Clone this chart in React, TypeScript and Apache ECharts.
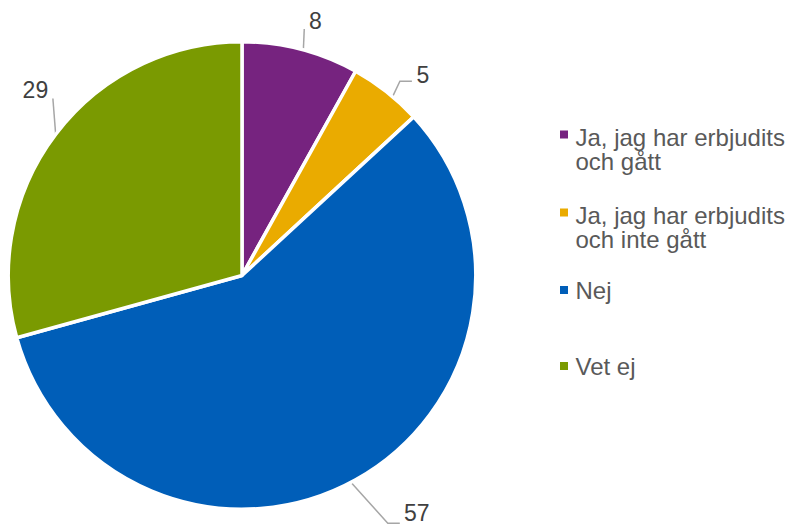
import React, { useEffect, useRef } from 'react';
import * as echarts from 'echarts';

// ---- data ----
const categories = [
  'Ja, jag har erbjudits\noch gått',
  'Ja, jag har erbjudits\noch inte gått',
  'Nej',
  'Vet ej',
];
const values = [8, 5, 57, 29];

// ---- styling / layout ----
const colors = ['#76237F', '#EAAB00', '#005EB8', '#7A9A01'];
const FONT = '"Liberation Sans", Arial, Helvetica, sans-serif';
const CX = 242;
const CY = 275.5;
const R = 232;
const BORDER = 3.5;

// leader-line points and label text offsets, relative to the outer-edge midpoint of each slice
const guides = [
  { line: [[3, 1], [4, -22], [4, -22]], text: [15, -30] },
  { line: [[6.5, 5], [14.5, -12], [26.5, -12]], text: [37.5, -18.5] },
  { line: [[-3, 5], [33, 45], [45, 45]], text: [62, 34.5] },
  { line: [[-1.5, 2], [-4.5, -36.5], [-4.5, -36.5]], text: [-22, -44.5] },
];

// legend: first-line text centre (y); the marker sits a little above the first line
const legendLineY = [137, 215, 290, 366];
const LEGEND_FONT = 24;
const LEGEND_LH = 24;
const MARKER = 8;
const MARKER_SHIFT = 2.5;

function sliceAnchors(): number[][] {
  const total = values.reduce((s, v) => s + v, 0);
  let cum = 0;
  return values.map((v) => {
    const mid = ((cum + v / 2) / total) * Math.PI * 2;
    cum += v;
    return [CX + R * Math.sin(mid), CY - R * Math.cos(mid)];
  });
}

export default function App() {
  const ref = useRef<HTMLDivElement>(null);

  useEffect(() => {
    if (!ref.current) return;
    const chart = echarts.init(ref.current, undefined, { renderer: 'svg' });
    const anchors = sliceAnchors();

    const legends = categories.map((name, i) => {
      const lines = name.split('\n').length;
      // for multi-line entries, a taller icon box whose visible square sits at the top,
      // so the square lines up with the first text line (as in the reference)
      const itemHeight =
        lines > 1 ? MARKER + (lines - 1) * LEGEND_LH + 2 * MARKER_SHIFT : MARKER;
      const icon =
        lines > 1
          ? `path://M0,0h${MARKER}v${MARKER}h-${MARKER}zM0,${itemHeight}h${MARKER}h-${MARKER}z`
          : 'rect';
      return {
        show: true,
        orient: 'vertical',
        left: 560,
        top: legendLineY[i] - LEGEND_FONT / 2,
        padding: 0,
        itemWidth: MARKER,
        itemHeight,
        icon,
        selectedMode: false,
        itemStyle: { borderWidth: 0 },
        data: [name],
        textStyle: {
          fontFamily: FONT,
          fontSize: LEGEND_FONT,
          lineHeight: LEGEND_LH,
          color: '#595959',
          padding: [0, 0, 0, 2.5],
        },
      };
    });

    chart.setOption({
      animation: false,
      color: colors,
      legend: legends,
      series: [
        {
          type: 'pie',
          center: [CX, CY],
          radius: R + BORDER / 2,
          startAngle: 90,
          clockwise: true,
          avoidLabelOverlap: false,
          minShowLabelAngle: 0,
          emphasis: { disabled: true },
          itemStyle: { borderColor: '#ffffff', borderWidth: BORDER },
          label: {
            show: true,
            position: 'outside',
            formatter: '{c}',
            fontFamily: FONT,
            fontSize: 23,
            color: '#404040',
          },
          labelLine: {
            show: true,
            length: 10,
            length2: 10,
            smooth: false,
            lineStyle: { color: '#A6A6A6', width: 1.5 },
          },
          labelLayout: (params: any) => {
            const i = params.dataIndex;
            const a = anchors[i];
            const g = guides[i];
            return {
              x: a[0] + g.text[0],
              y: a[1] + g.text[1],
              align: 'center',
              verticalAlign: 'middle',
              labelLinePoints: g.line.map(([dx, dy]) => [a[0] + dx, a[1] + dy]),
            };
          },
          data: categories.map((name, i) => ({
            name,
            value: values[i],
            itemStyle: { color: colors[i] },
          })),
        },
      ],
    });

    return () => chart.dispose();
  }, []);

  return (
    <div
      ref={ref}
      style={{ position: 'absolute', left: 0, top: 0, width: 795, height: 526 }}
    />
  );
}
